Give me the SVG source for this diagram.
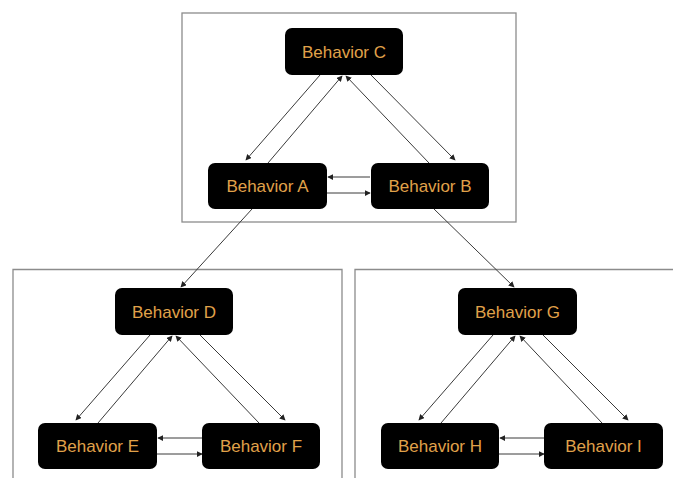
<svg xmlns="http://www.w3.org/2000/svg" width="673" height="478" viewBox="0 0 673 478">
  <style>
    .frame { fill: none; stroke: #8c8c8c; stroke-width: 1.3; }
    .node rect { fill: #000; }
    .node text { fill: #e0a24a; font-family: "Liberation Sans", Arial, sans-serif; font-size: 17px; text-anchor: middle; }
    .edge { stroke: #3a3a3a; stroke-width: 1; fill: none; marker-end: url(#arrow); }
  </style>
  <defs>
    <marker id="arrow" viewBox="0 0 8 8" refX="7" refY="4" markerWidth="6" markerHeight="6" markerUnits="userSpaceOnUse" orient="auto">
      <path d="M0,0 L8,4 L0,8 z" fill="#222"/>
    </marker>
  </defs>
  <rect width="673" height="478" fill="#fff"/>

  <!-- group frames -->
  <g id="frames">
    <rect class="frame" x="182" y="13" width="334" height="209"/>
    <path class="frame" d="M13,480 V269.5 H342 V480"/>
    <path class="frame" d="M355,480 V269.5 H675"/>
  </g>

  <!-- connectors -->
  <g id="connectors">
    <!-- top triangle C / A / B -->
    <line class="edge" x1="320" y1="75" x2="246" y2="160"/>
    <line class="edge" x1="268" y1="163" x2="342" y2="76"/>
    <line class="edge" x1="429" y1="163" x2="346" y2="76"/>
    <line class="edge" x1="371" y1="75" x2="455" y2="160"/>
    <line class="edge" x1="370" y1="177" x2="328" y2="177"/>
    <line class="edge" x1="327" y1="193" x2="370" y2="193"/>
    <!-- links between groups -->
    <line class="edge" x1="252" y1="209" x2="181" y2="287"/>
    <line class="edge" x1="434" y1="209" x2="514" y2="287"/>
    <!-- left triangle D / E / F -->
    <line class="edge" x1="150" y1="335" x2="76" y2="420"/>
    <line class="edge" x1="98" y1="423" x2="172" y2="336"/>
    <line class="edge" x1="259" y1="423" x2="176" y2="336"/>
    <line class="edge" x1="200" y1="335" x2="285" y2="420"/>
    <line class="edge" x1="202" y1="438" x2="158" y2="438"/>
    <line class="edge" x1="157" y1="454" x2="202" y2="454"/>
    <!-- right triangle G / H / I -->
    <line class="edge" x1="493" y1="335" x2="419" y2="420"/>
    <line class="edge" x1="441" y1="423" x2="515" y2="336"/>
    <line class="edge" x1="602" y1="423" x2="520" y2="336"/>
    <line class="edge" x1="543" y1="335" x2="628" y2="420"/>
    <line class="edge" x1="544" y1="438" x2="500" y2="438"/>
    <line class="edge" x1="499" y1="454" x2="544" y2="454"/>
  </g>

  <!-- nodes -->
  <g id="node-c" class="node"><rect x="285" y="28" width="118" height="47" rx="7"/><text x="344" y="58">Behavior C</text></g>
  <g id="node-a" class="node"><rect x="208" y="163" width="119" height="46" rx="7"/><text x="267.5" y="192">Behavior A</text></g>
  <g id="node-b" class="node"><rect x="371" y="163" width="118" height="46" rx="7"/><text x="430" y="192">Behavior B</text></g>
  <g id="node-d" class="node"><rect x="115" y="288" width="118" height="47" rx="7"/><text x="174" y="318">Behavior D</text></g>
  <g id="node-e" class="node"><rect x="38" y="423" width="119" height="46" rx="7"/><text x="97.5" y="452">Behavior E</text></g>
  <g id="node-f" class="node"><rect x="202" y="423" width="118" height="46" rx="7"/><text x="261" y="452">Behavior F</text></g>
  <g id="node-g" class="node"><rect x="458" y="288" width="119" height="47" rx="7"/><text x="517.5" y="318">Behavior G</text></g>
  <g id="node-h" class="node"><rect x="381" y="423" width="118" height="46" rx="7"/><text x="440" y="452">Behavior H</text></g>
  <g id="node-i" class="node"><rect x="544" y="423" width="119" height="46" rx="7"/><text x="603.5" y="452">Behavior I</text></g>
</svg>
